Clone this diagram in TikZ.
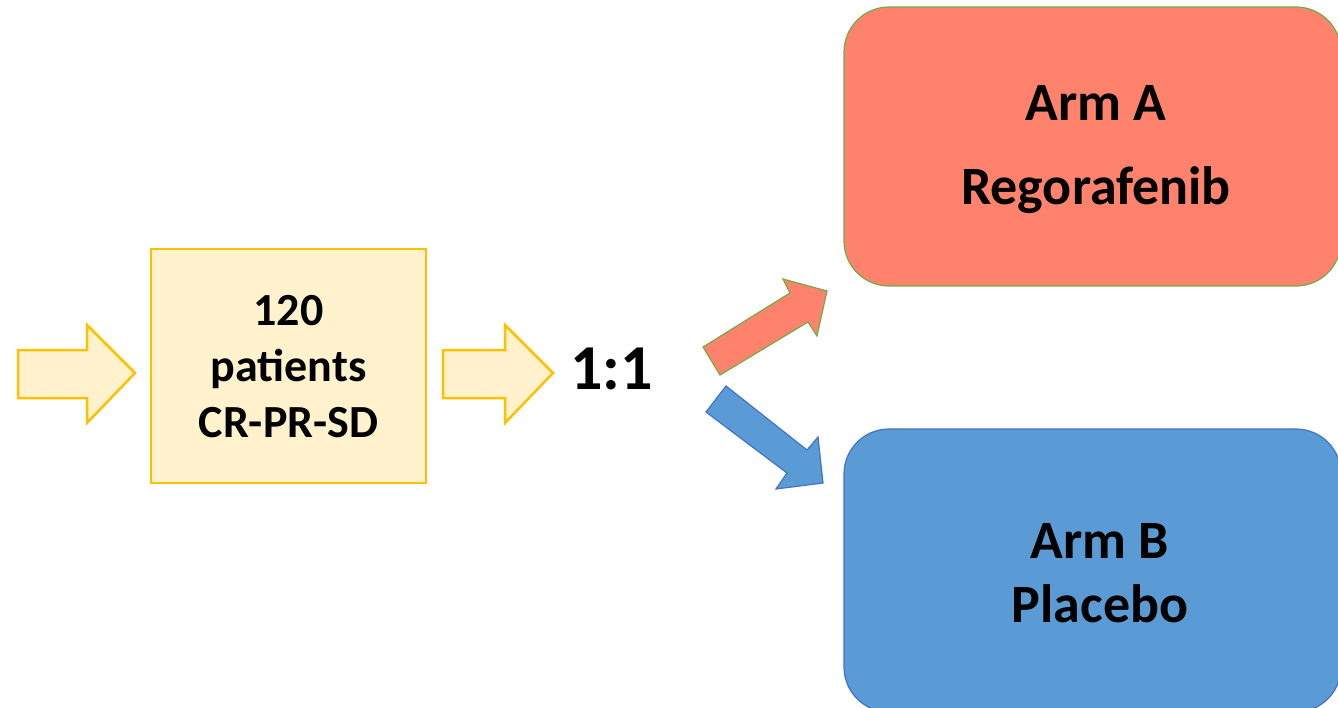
\documentclass[tikz,border=0pt]{standalone}
\usepackage{fontspec}
\setmainfont{Carlito}
\definecolor{paleyellow}{HTML}{FFF2CC}
\definecolor{gold}{HTML}{FFC000}
\definecolor{salmon}{HTML}{FF826C}
\definecolor{leafgreen}{HTML}{70AD47}
\definecolor{skyblue}{HTML}{5B9BD5}
\definecolor{deepblue}{HTML}{4472C4}
\tikzset{
  yellowarrow/.style={fill=paleyellow, draw=gold, line width=2.5pt, line join=miter},
  redarrow/.style={fill=salmon, draw=leafgreen, line width=1.2pt, line join=miter},
  bluearrow/.style={fill=skyblue, draw=deepblue, line width=1.2pt, line join=miter},
  inbox/.style={fill=paleyellow, draw=gold, line width=1.5pt},
  armbox/.style={rounded corners=45pt, line width=1.2pt},
  lbl/.style={anchor=base, font=\bfseries\fontsize{46}{56}\selectfont, inner sep=0pt},
  armlbl/.style={anchor=base, font=\bfseries\fontsize{54}{64}\selectfont, inner sep=0pt},
}
\begin{document}
\begin{tikzpicture}[x=1pt, y=-1pt]
\useasboundingbox (0,0) rectangle (1338,707);
\clip (0,0) rectangle (1338,707);
\fill[white] (0,0) rectangle (1338,707);

% entry arrow and patient box
\draw[yellowarrow] (18,350) -- (87,350) -- (87,325) -- (135,373) -- (87,423) -- (87,398) -- (18,398) -- cycle;
\draw[inbox] (151,249) rectangle (426,483);
\node[lbl] (n120) at (288.5,325) {120};
\node[lbl] (npat) at (288.5,381) {patients};
\node[lbl] (ncr) at (288.5,437) {CR-PR-SD};

% randomisation
\draw[yellowarrow] (443,350) -- (505,350) -- (505,325) -- (553,373) -- (505,423) -- (505,398) -- (443,398) -- cycle;
\node[anchor=base, font=\bfseries\fontsize{64}{70}\selectfont, inner sep=0pt] (ratio) at (611.5,389) {1:1};

% branch arrows
\draw[redarrow] (720,375) -- (703,347) -- (790,293) -- (783,279) -- (827,291) -- (817,336) -- (808,322) -- cycle;
\draw[bluearrow] (726,386) -- (706,412) -- (787,473) -- (776,489) -- (823,483) -- (818,437) -- (807,450) -- cycle;

% treatment arms
\draw[armbox, fill=salmon, draw=leafgreen] (844,7) rectangle (1341,286);
\node[armlbl] (armA) at (1096,120) {Arm A};
\node[armlbl] (rego) at (1096,204) {Regorafenib};

\draw[armbox, fill=skyblue, draw=deepblue] (844,429) rectangle (1341,712);
\node[armlbl] (armB) at (1100,558) {Arm B};
\node[armlbl] (plac) at (1100,622) {Placebo};
\end{tikzpicture}
\end{document}
